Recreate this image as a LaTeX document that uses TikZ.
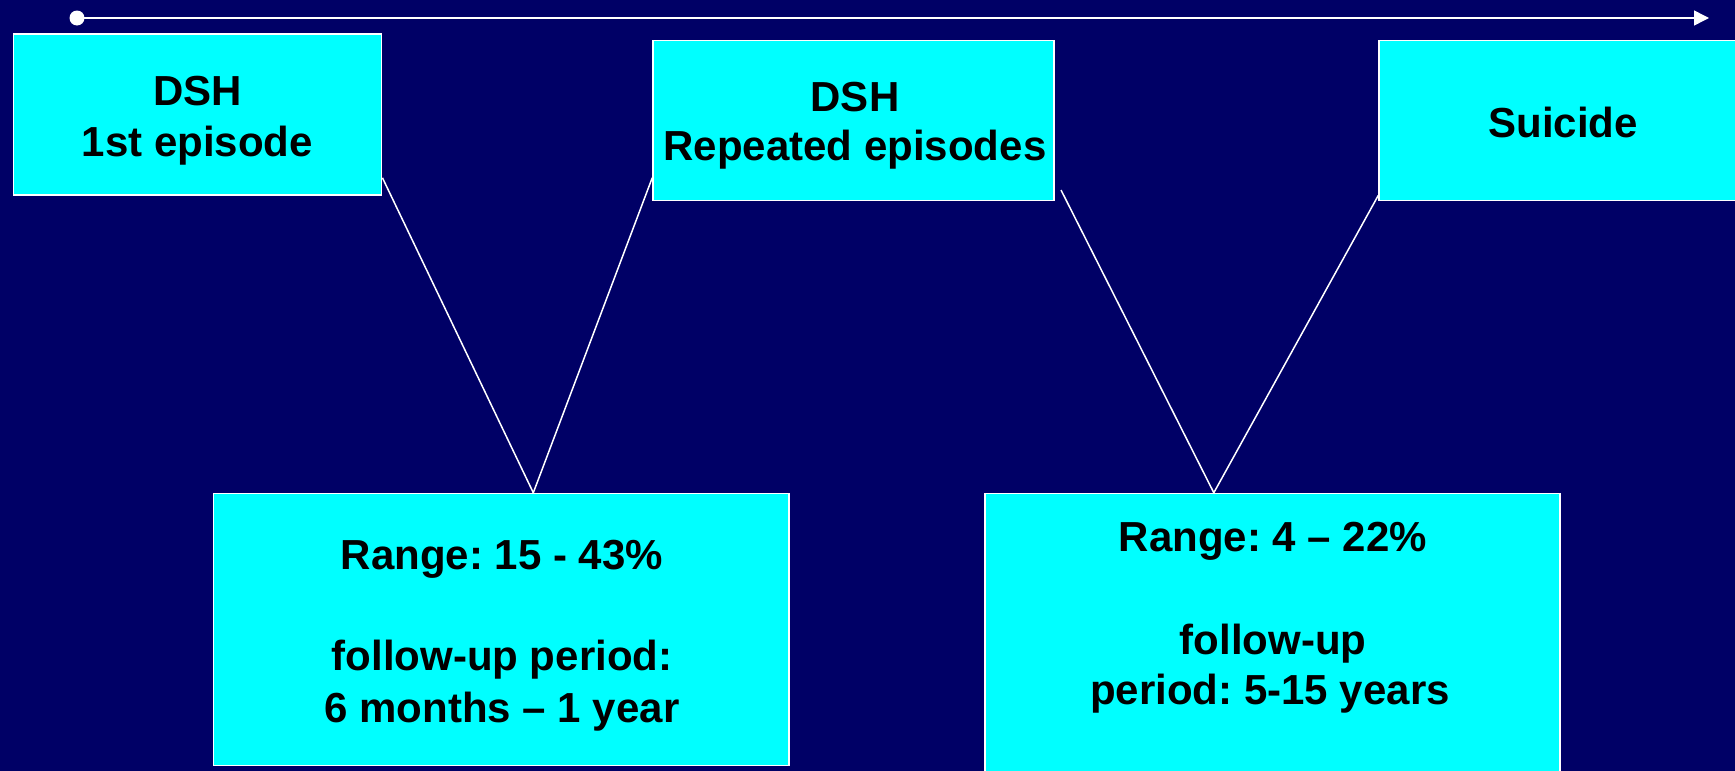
\documentclass[tikz,border=0pt]{standalone}
\usepackage{fontspec}
\setmainfont{Liberation Sans}
\usetikzlibrary{calc,arrows.meta}
\definecolor{navybg}{RGB}{0,0,102}
\definecolor{cyanbox}{RGB}{0,255,255}
\frenchspacing
\begin{document}
\begin{tikzpicture}[x=1pt,y=-1pt,
  box/.style={draw=white, line width=1.5pt, fill=cyanbox, inner sep=0pt},
  txt/.style={inner sep=0pt, anchor=base, font=\fontsize{42}{51}\selectfont\bfseries, text=black},
  link/.style={draw=white, line width=1.5pt}]
\fill[navybg] (0,0) rectangle (1735,771);
\useasboundingbox (0,0) rectangle (1735,771);
\clip (0,0) rectangle (1735,771);

% timeline
\node[circle, fill=white, inner sep=0pt, minimum size=15pt] (dot) at (77,18) {};
\coordinate (tip) at (1709,18);
\draw[link, -{Triangle[length=15pt,width=15pt]}] (dot.center) -- (tip);

% boxes
\node[box, minimum width=368.4pt, minimum height=160.7pt] (b1) at (197.5,114.4) {};
\node[box, minimum width=401pt, minimum height=160.2pt] (b2) at (853.5,120.6) {};
\node[box, minimum width=368pt, minimum height=160.2pt] (b3) at (1563,120.6) {};
\node[box, minimum width=575.4pt, minimum height=272.2pt] (b4) at (501.3,629.6) {};
\node[box, minimum width=575pt, minimum height=300pt] (b5) at (1272.5,643.5) {};

% texts
\node[txt] (t1a) at (197.5,105) {DSH};
\node[txt] (t1b) at (197.5,156) {1st episode};
\node[txt] (t2a) at (855,111.7) {DSH};
\node[txt] (t2b) at (855,160.7) {Repeated episodes};
\node[txt] (t3)  at (1563,137) {Suicide};
\node[txt] (t4a) at (502,569.3) {Range: 15 - 43\%};
\node[txt] (t4b) at (502,670.7) {follow-up period:};
\node[txt] (t4c) at (502,722.7) {6 months – 1 year};
\node[txt] (t5a) at (1273,551.7) {Range: 4 – 22\%};
\node[txt] (t5b) at (1273,654) {follow-up};
\node[txt] (t5c) at (1270,704) {period: 5-15 years};

% connectors
\coordinate (s1) at ($(b1.south east)+(0,-17.7)$);
\coordinate (s2) at ($(b2.south west)+(0,-23.7)$);
\coordinate (s3) at (1061,190);
\coordinate (s4) at ($(b3.south west)+(0,-6)$);
\coordinate (a1) at ($(b4.north)+(32,0)$);
\coordinate (a2) at ($(b5.north)+(-58.7,0)$);
\draw[link] (s1) -- (a1);
\draw[link] (s2) -- (a1);
\draw[link] (s3) -- (a2);
\draw[link] (s4) -- (a2);
\end{tikzpicture}
\end{document}
